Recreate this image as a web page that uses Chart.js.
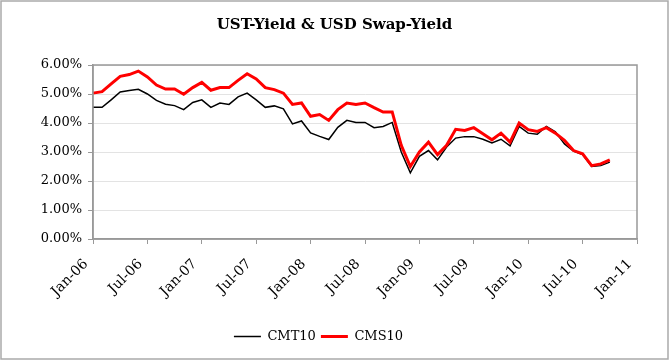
<!DOCTYPE html>
<html>
<head>
<meta charset="utf-8">
<script src="https://cdn.jsdelivr.net/npm/chart.js@4/dist/chart.umd.min.js"></script>
<style>
    html, body { margin: 0; padding: 0; background: #fff; }
    #wrap { width: 670px; height: 361px; position: relative; }
</style>
</head>
<body>
<div id="wrap"><canvas id="chart" width="670" height="361"></canvas></div>
<script>
// monthly, Jan-06 .. Jan-11 (data runs to Oct-10)
const months = [
    'Jan-06','Feb-06','Mar-06','Apr-06','May-06','Jun-06','Jul-06','Aug-06','Sep-06','Oct-06','Nov-06','Dec-06',
    'Jan-07','Feb-07','Mar-07','Apr-07','May-07','Jun-07','Jul-07','Aug-07','Sep-07','Oct-07','Nov-07','Dec-07',
    'Jan-08','Feb-08','Mar-08','Apr-08','May-08','Jun-08','Jul-08','Aug-08','Sep-08','Oct-08','Nov-08','Dec-08',
    'Jan-09','Feb-09','Mar-09','Apr-09','May-09','Jun-09','Jul-09','Aug-09','Sep-09','Oct-09','Nov-09','Dec-09',
    'Jan-10','Feb-10','Mar-10','Apr-10','May-10','Jun-10','Jul-10','Aug-10','Sep-10','Oct-10','Nov-10','Dec-10',
    'Jan-11'
];

// 10y treasury yield, %
const cmt10 = [
    4.54, 4.54, 4.80, 5.07, 5.12, 5.16, 5.00, 4.78, 4.65, 4.60, 4.46, 4.71,
    4.80, 4.54, 4.69, 4.64, 4.90, 5.03, 4.80, 4.54, 4.59, 4.49, 3.97, 4.07,
    3.66, 3.54, 3.43, 3.85, 4.09, 4.02, 4.02, 3.84, 3.88, 4.02, 3.00, 2.28,
    2.85, 3.05, 2.73, 3.17, 3.48, 3.53, 3.53, 3.44, 3.31, 3.44, 3.21, 3.88,
    3.65, 3.61, 3.88, 3.70, 3.28, 3.03, 2.91, 2.50, 2.53, 2.65
];

// 10y USD swap rate, %
const cms10 = [
    5.03, 5.08, 5.35, 5.61, 5.67, 5.79, 5.59, 5.31, 5.17, 5.17, 4.99, 5.22,
    5.40, 5.13, 5.22, 5.22, 5.47, 5.70, 5.52, 5.22, 5.15, 5.03, 4.64, 4.69,
    4.23, 4.29, 4.09, 4.46, 4.69, 4.64, 4.69, 4.53, 4.38, 4.38, 3.23, 2.50,
    3.00, 3.34, 2.91, 3.23, 3.78, 3.74, 3.84, 3.63, 3.42, 3.65, 3.34, 4.00,
    3.77, 3.71, 3.84, 3.65, 3.40, 3.05, 2.94, 2.53, 2.59, 2.73
];

const yMin = 0, yMax = 6, yStep = 1;
const labelEvery = 6;

const frame = {
    id: 'frame',
    afterLayout(chart) {
        // title in the original sits centred on the whole picture
        chart.titleBlock.left += 16;
        chart.titleBlock.right += 16;
    },
    afterDraw(chart) {
        const { ctx, chartArea: a } = chart;
        ctx.save();
        ctx.strokeStyle = '#999';
        ctx.lineWidth = 1.5;
        ctx.strokeRect(a.left, a.top, a.right - a.left, a.bottom - a.top);
        ctx.strokeStyle = '#aaa';
        ctx.lineWidth = 1.5;
        ctx.strokeRect(1, 1, 667, 358);
        ctx.restore();
    }
};

new Chart(document.getElementById('chart'), {
    type: 'line',
    data: {
        labels: months,
        datasets: [
            {
                label: 'CMT10',
                data: cmt10,
                borderColor: '#000',
                backgroundColor: '#000',
                borderWidth: 1.5,
                order: 1,
            },
            {
                label: 'CMS10',
                data: cms10,
                borderColor: '#ff0000',
                backgroundColor: '#ff0000',
                borderWidth: 3,
                order: 0,
            },
        ]
    },
    options: {
        responsive: false,
        animation: false,
        elements: {
            line: { tension: 0 },
            point: { radius: 0, hoverRadius: 0 }
        },
        layout: { padding: { left: 0, right: 33, top: 0, bottom: 8 } },
        plugins: {
            title: {
                display: true,
                text: 'UST-Yield & USD Swap-Yield',
                color: '#000',
                font: { family: 'DejaVu Serif', size: 15, weight: 'bold' },
                padding: { top: 16, bottom: 31 }
            },
            legend: {
                position: 'bottom',
                labels: {
                    usePointStyle: true,
                    pointStyle: 'line',
                    pointStyleWidth: 27,
                    color: '#000',
                    font: { family: 'DejaVu Serif', size: 13 },
                    padding: 5,
                    sort: (a, b) => a.datasetIndex - b.datasetIndex
                }
            },
            tooltip: { enabled: false }
        },
        scales: {
            x: {
                type: 'category',
                offset: false,
                afterFit: s => { s.height = 86; },
                grid: {
                    drawOnChartArea: false,
                    tickLength: 5,
                    color: ctx => ctx.index % labelEvery === 0 ? '#999' : 'rgba(0,0,0,0)'
                },
                border: { color: '#999', width: 1.5 },
                ticks: {
                    autoSkip: false,
                    maxRotation: 45,
                    minRotation: 45,
                    color: '#000',
                    padding: 12,
                    labelOffset: -7,
                    font: { family: 'DejaVu Serif', size: 14 },
                    callback: (v, i) => i % labelEvery === 0 ? months[i] : ''
                }
            },
            y: {
                min: yMin,
                max: yMax,
                afterFit: s => { s.width = 93; },
                grid: {
                    color: '#e3e3e3',
                    tickColor: '#999',
                    tickLength: 5
                },
                border: { color: '#999', width: 1.5 },
                ticks: {
                    stepSize: yStep,
                    color: '#000',
                    padding: 6,
                    font: { family: 'DejaVu Serif', size: 13 },
                    callback: v => v.toFixed(2) + '%'
                }
            }
        }
    },
    plugins: [frame]
});
</script>
</body>
</html>
